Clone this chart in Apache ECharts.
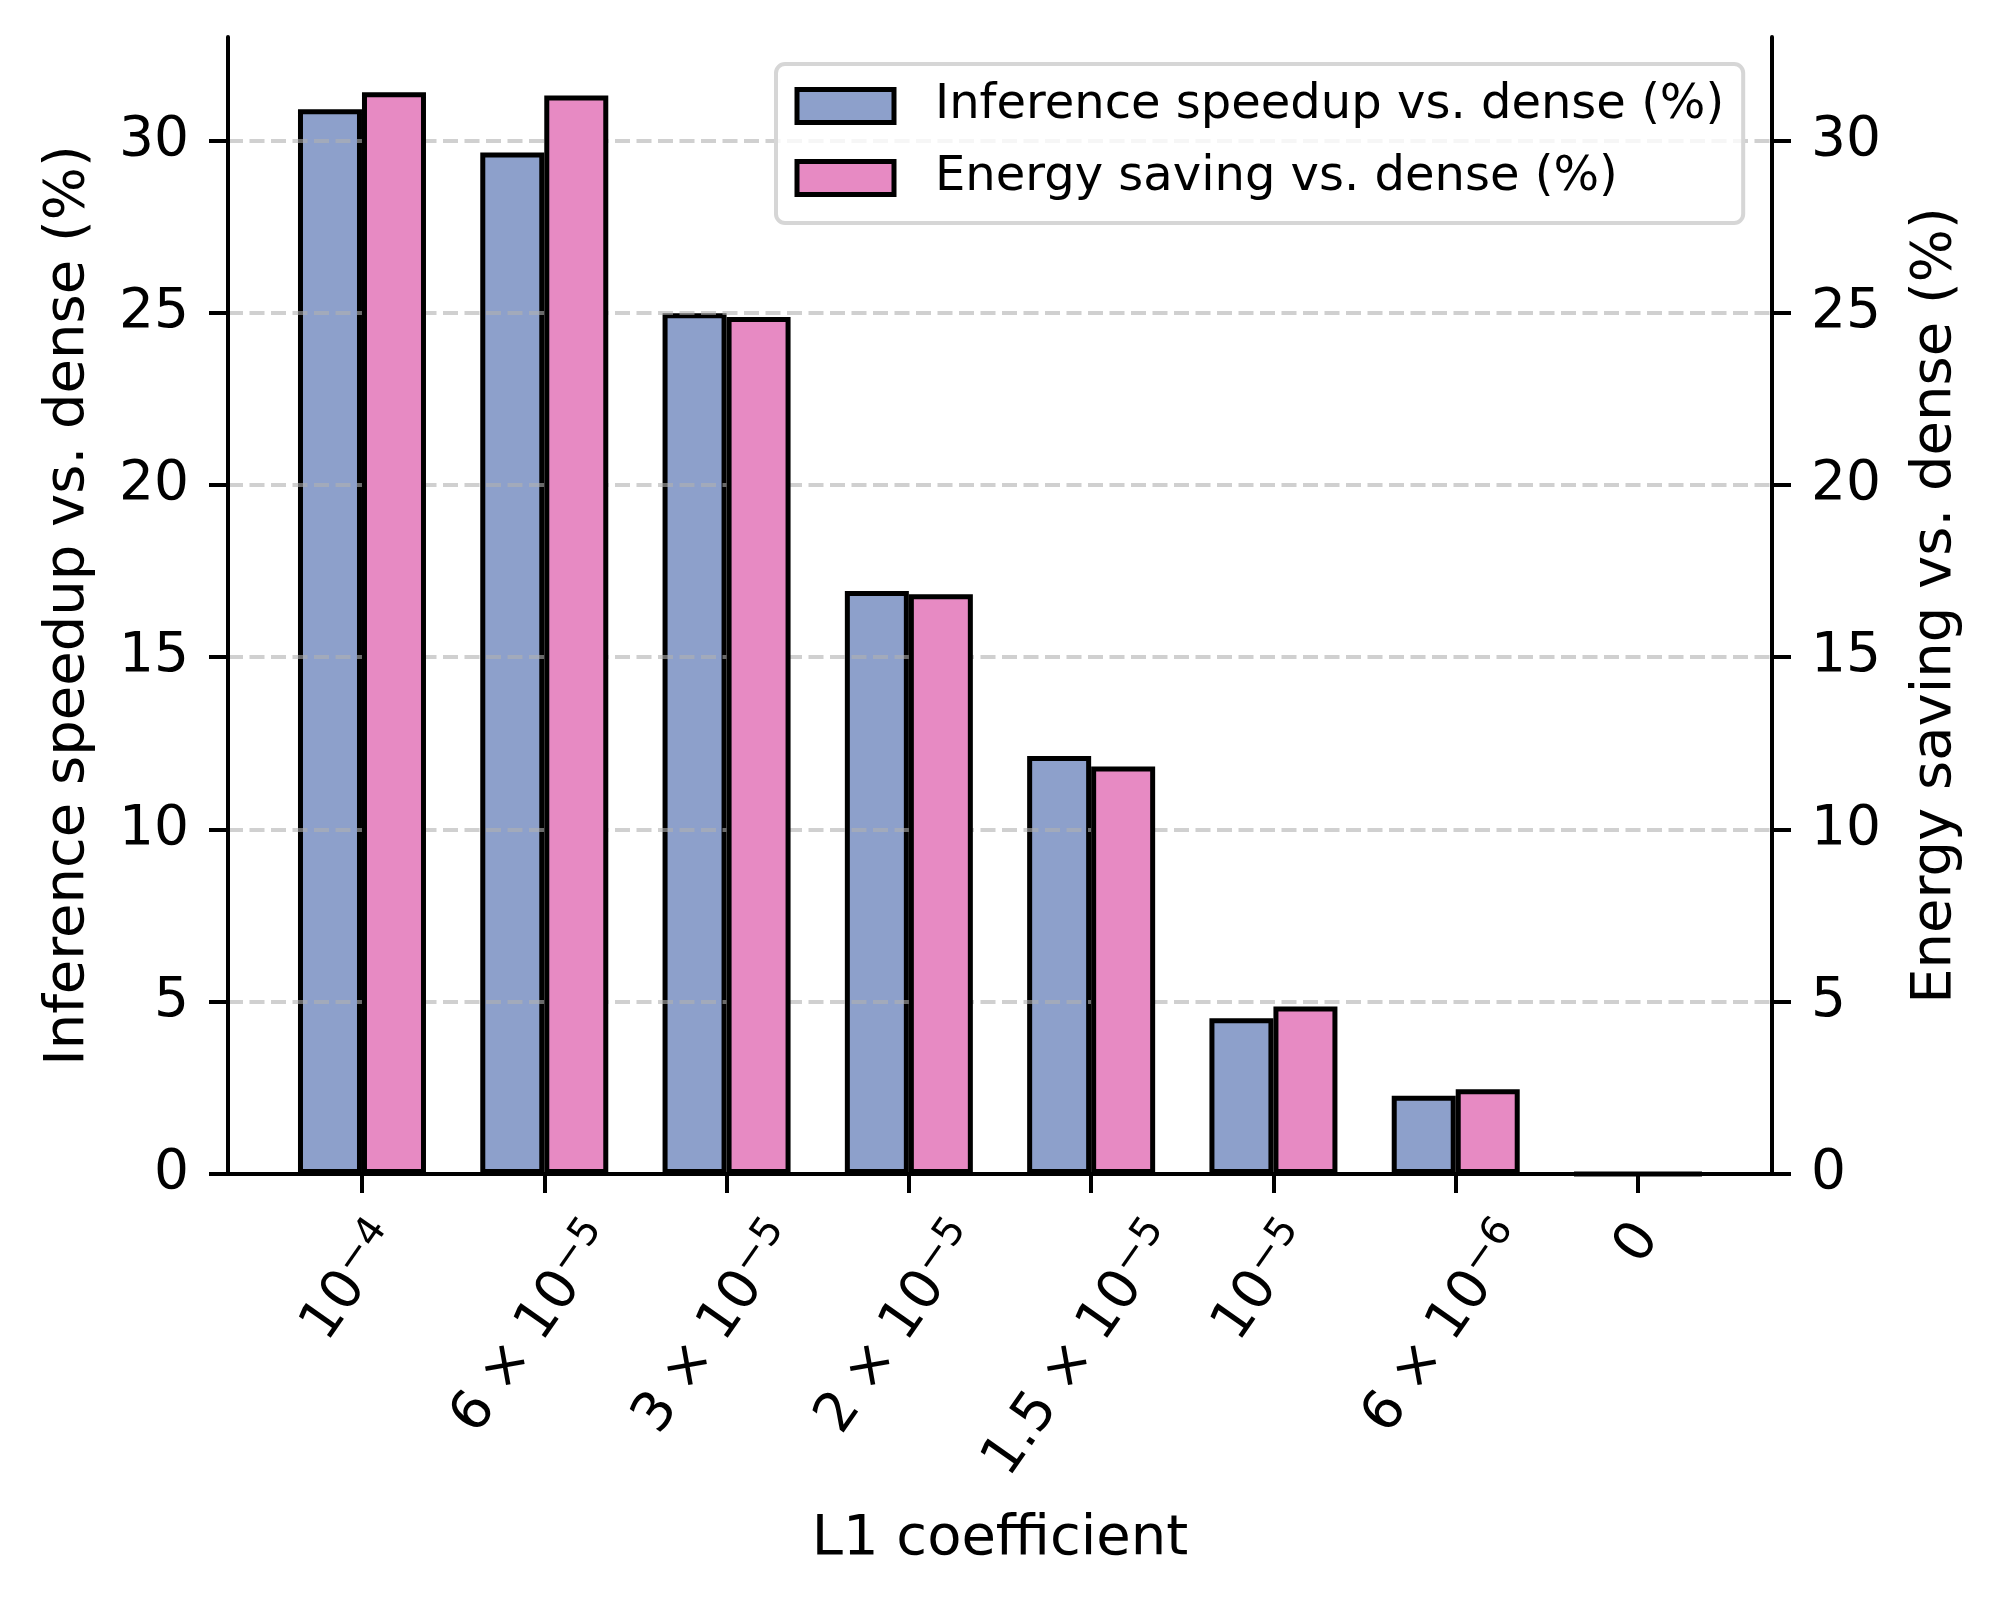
<!DOCTYPE html>
<html><head><meta charset="utf-8">
<script src="https://cdn.jsdelivr.net/npm/echarts@6/dist/echarts.min.js"></script>
<style>html,body{margin:0;padding:0;background:#fff;} #c{width:2000px;height:1607px;}</style>
</head><body><div id="c"></div>
<script>
// ---- data ----
const categories = ['10^{−4}', '6×10^{−5}', '3×10^{−5}', '2×10^{−5}', '1.5×10^{−5}', '10^{−5}', '6×10^{−6}', '0'];
const categoryPositions = [0, 1, 2, 3, 4, 5, 6, 7];
const inferenceSpeedup = [30.9, 29.65, 24.98, 16.92, 12.13, 4.52, 2.27, 0];
const energySaving = [31.4, 31.3, 24.87, 16.83, 11.83, 4.86, 2.46, 0];
const yTicks = [0, 5, 10, 15, 20, 25, 30];
const seriesNames = ['Inference speedup vs. dense (%)', 'Energy saving vs. dense (%)'];
const xTitle = 'L1 coefficient';

// ---- styling / label layout ----
const FONT = '"DejaVu Sans"';
const BASE = 55, SUP = 40, ROT = 55, XSP = 16;
const th = ROT * Math.PI / 180;
const ctx = document.createElement('canvas').getContext('2d');
function tw(t, s) { ctx.font = s + 'px ' + FONT; return ctx.measureText(t).width; }
const parts = categories.map(c => {
  const m = c.match(/^(.*?)\^\{(.*)\}$/);
  const base = m ? m[1] : c;
  const bits = base.split('×');
  return { pre: bits.length > 1 ? bits[0] : '', main: bits[bits.length - 1], sup: m ? m[2] : '' };
});
const widths = parts.map(p =>
  (p.pre ? tw(p.pre, BASE) + tw('×', BASE) + 2 * XSP : 0) + tw(p.main, BASE) + (p.sup ? tw(p.sup, SUP) : 0));
const Lmin = Math.min.apply(null, widths);
const labelMargin = 41 + (Lmin * Math.sin(th) + 50 * Math.cos(th)) / 2;
const rich = {
  b: { fontSize: BASE, fontFamily: FONT, lineHeight: 64, color: '#000' },
  x: { fontSize: BASE, fontFamily: FONT, lineHeight: 64, color: '#000', padding: [0, XSP, 0, XSP] },
  s: { fontSize: SUP, fontFamily: FONT, lineHeight: 31, verticalAlign: 'top', color: '#000' }
};
parts.forEach((p, i) => {
  const dy = (widths[i] - Lmin) * Math.sin(th) / 2;
  const dx = p.sup ? -10 : 0;
  const a = -dx * Math.cos(th) + dy * Math.sin(th);
  const b = dx * Math.sin(th) + dy * Math.cos(th);
  rich['w' + i] = { width: Math.max(2 * a, 0.01), fontSize: 1, lineHeight: 1 };
  rich['h' + i] = { fontSize: 1, lineHeight: Math.max(2 * b, 0.01) };
});
function fmt(v) {
  const i = Math.round(v);
  const p = parts[i];
  if (!p) return '';
  let s = '{h' + i + '| }\n';
  if (p.pre) s += '{b|' + p.pre + '}{x|×}';
  s += '{b|' + p.main + '}';
  if (p.sup) s += '{s|' + p.sup + '}';
  s += '{w' + i + '| }';
  return s;
}

const chart = echarts.init(document.getElementById('c'), null, { renderer: 'canvas' });
const yCommon = {
  type: 'value', min: 0, max: 33, interval: 5,
  axisLine: { show: true, onZero: false, lineStyle: { color: '#000', width: 4 } },
  axisTick: { show: true, length: 19, customValues: yTicks, lineStyle: { color: '#000', width: 4 } },
  axisLabel: { customValues: yTicks, margin: 39, fontSize: 55, fontFamily: FONT, color: '#000' },
  nameLocation: 'middle', nameRotate: 90,
  nameTextStyle: { fontSize: 56, fontFamily: FONT, color: '#000', align: 'center', verticalAlign: 'middle' }
};
chart.setOption({
  animation: false,
  backgroundColor: '#fff',
  grid: { left: 228, right: 228, top: 37, bottom: 433, containLabel: false },
  legend: {
    orient: 'vertical', left: 776, top: 64,
    padding: [18, 19, 21, 18.5],
    itemWidth: 97, itemHeight: 33, itemGap: 24, icon: 'rect',
    backgroundColor: 'rgba(255,255,255,0.8)', borderColor: '#d6d6d6', borderWidth: 4, borderRadius: 9,
    itemStyle: { borderColor: '#000', borderWidth: 5 },
    textStyle: { fontSize: 48, fontFamily: FONT, color: '#000', padding: [0, 0, 0, 36] },
    selectedMode: false, z: 10,
    data: seriesNames
  },
  xAxis: {
    type: 'value', min: -0.735, max: 7.735, z: 6,
    axisLine: { show: true, onZero: false, lineStyle: { color: '#000', width: 4 } },
    axisTick: { show: true, length: 19, customValues: categoryPositions, lineStyle: { color: '#000', width: 4 } },
    axisLabel: {
      customValues: categoryPositions, rotate: ROT, align: 'center', verticalAlign: 'middle',
      margin: labelMargin, formatter: fmt, rich: rich, fontSize: BASE, fontFamily: FONT, color: '#000'
    },
    splitLine: { show: false },
    name: xTitle, nameLocation: 'middle', nameGap: 365,
    nameTextStyle: { fontSize: 56, fontFamily: FONT, color: '#000', align: 'center', verticalAlign: 'middle' }
  },
  yAxis: [
    Object.assign({}, yCommon, { position: 'left', z: 6, splitLine: { show: false }, name: seriesNames[0], nameGap: 160 }),
    Object.assign({}, yCommon, {
      position: 'right', z: 3, name: seriesNames[1], nameGap: 163,
      splitLine: { show: true, showMinLine: false, showMaxLine: true,
        lineStyle: { color: 'rgba(176,176,176,0.6)', width: 4, type: [15, 6.5] } }
    })
  ],
  series: [
    {
      type: 'bar', name: seriesNames[0], xAxisIndex: 0, yAxisIndex: 0, z: 2,
      data: inferenceSpeedup.map((v, i) => [categoryPositions[i], v]),
      barWidth: 64, barGap: '0%',
      itemStyle: { color: '#8DA0CB', borderColor: '#000', borderWidth: 5 },
      emphasis: { disabled: true }
    },
    {
      type: 'bar', name: seriesNames[1], xAxisIndex: 0, yAxisIndex: 1, z: 4,
      data: energySaving.map((v, i) => [categoryPositions[i], v]),
      barWidth: 64, barGap: '0%',
      itemStyle: { color: '#E78AC3', borderColor: '#000', borderWidth: 5 },
      emphasis: { disabled: true }
    }
  ]
});
</script>
</body></html>
